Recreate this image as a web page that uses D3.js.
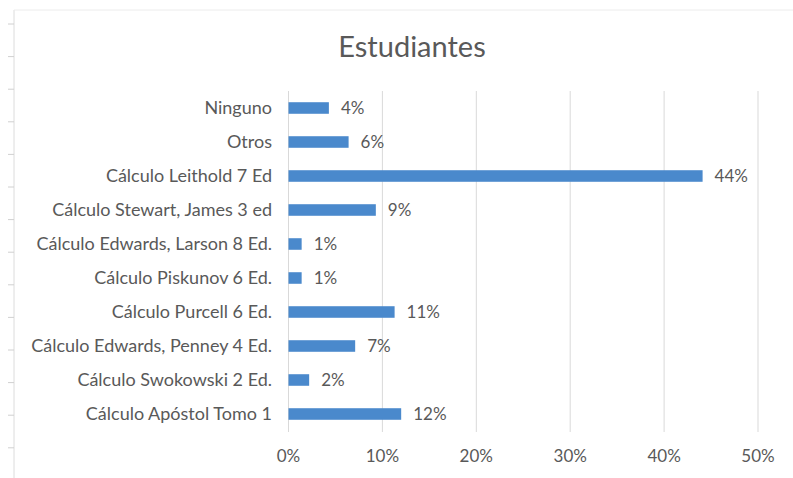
<!DOCTYPE html>
<html>
<head>
<meta charset="utf-8">
<script src="https://cdn.jsdelivr.net/npm/d3@7/dist/d3.min.js"></script>
<style>
  body { margin: 0; background: #fff; }
  svg { display: block; }
</style>
</head>
<body>
<svg id="chart" width="793" height="478"></svg>
<script>
// Data
var categories = ["Ninguno", "Otros", "Cálculo Leithold 7 Ed", "Cálculo Stewart, James 3 ed",
    "Cálculo Edwards, Larson 8 Ed.", "Cálculo Piskunov 6 Ed.", "Cálculo Purcell 6 Ed.",
    "Cálculo Edwards, Penney 4 Ed.", "Cálculo Swokowski 2 Ed.", "Cálculo Apóstol Tomo 1"];
var values = [0.043, 0.064, 0.441, 0.093, 0.014, 0.014, 0.113, 0.071, 0.022, 0.120];
var ticks = [0, 0.1, 0.2, 0.3, 0.4, 0.5];
var title = "Estudiantes";

var svg = d3.select("#chart");
var font = "Lato, 'Open Sans', sans-serif";
var textColor = "#595959";

// Left edge of the sheet (frame residue)
svg.append("line").attr("x1", 14).attr("x2", 14).attr("y1", 10).attr("y2", 478)
    .attr("stroke", "#dcdcdc");
svg.append("line").attr("x1", 14).attr("x2", 793).attr("y1", 10).attr("y2", 10)
    .attr("stroke", "#ececec");
var sheetRows = d3.range(24, 478, 32.6);
svg.selectAll(".rowtick").data(sheetRows).enter().append("line")
    .attr("x1", 8).attr("x2", 14).attr("y1", d => d).attr("y2", d => d)
    .attr("stroke", "#d0d0d0");

var x = d3.scaleLinear().domain([0, 0.5]).range([288.5, 758]);
var y = d3.scaleBand().domain(categories).range([91, 431]).paddingInner(0.66).paddingOuter(0.33);

// gridlines
svg.append("g").selectAll("line").data(ticks).enter().append("line")
    .attr("x1", d => x(d)).attr("x2", d => x(d))
    .attr("y1", 91).attr("y2", 432)
    .attr("stroke", "#d9d9d9").attr("stroke-width", 1);

// title
svg.append("text").attr("x", 412).attr("y", 57).attr("text-anchor", "middle")
    .attr("font-family", font).attr("font-size", 29).attr("fill", textColor)
    .text(title);

// bars
svg.append("g").selectAll("rect").data(values).enter().append("rect")
    .attr("x", x(0))
    .attr("y", (d, i) => y(categories[i]))
    .attr("width", d => x(d) - x(0))
    .attr("height", y.bandwidth())
    .attr("fill", "#4a89cc");

// value labels
var fmt = d3.format(".0%");
svg.append("g").selectAll("text").data(values).enter().append("text")
    .attr("x", d => x(d) + 12)
    .attr("y", (d, i) => y(categories[i]) + y.bandwidth() / 2)
    .attr("dy", "0.35em")
    .attr("font-family", font).attr("font-size", 17).attr("fill", textColor)
    .text(d => fmt(d));

// category labels
svg.append("g").selectAll("text").data(categories).enter().append("text")
    .attr("x", 272)
    .attr("y", d => y(d) + y.bandwidth() / 2)
    .attr("dy", "0.35em")
    .attr("text-anchor", "end")
    .attr("font-family", font).attr("font-size", 18).attr("fill", textColor)
    .text(d => d);

// x axis tick labels
svg.append("g").selectAll("text").data(ticks).enter().append("text")
    .attr("x", d => x(d))
    .attr("y", 456)
    .attr("dy", "0.35em")
    .attr("text-anchor", "middle")
    .attr("font-family", font).attr("font-size", 17).attr("fill", textColor)
    .text(d => fmt(d));
</script>
</body>
</html>
